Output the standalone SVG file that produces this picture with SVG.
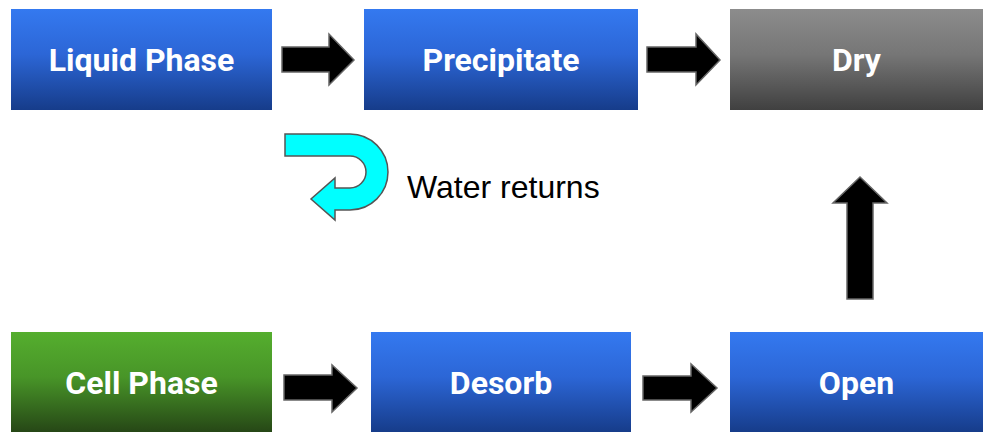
<svg xmlns="http://www.w3.org/2000/svg" width="984" height="432" viewBox="0 0 984 432">
<defs>
<linearGradient id="blue" x1="0" y1="0" x2="0" y2="1">
<stop offset="0" stop-color="#3479F0"/>
<stop offset="0.45" stop-color="#2C66D6"/>
<stop offset="1" stop-color="#163C8A"/>
</linearGradient>
<linearGradient id="green" x1="0" y1="0" x2="0" y2="1">
<stop offset="0" stop-color="#55AE2E"/>
<stop offset="0.45" stop-color="#489528"/>
<stop offset="1" stop-color="#264716"/>
</linearGradient>
<linearGradient id="grey" x1="0" y1="0" x2="0" y2="1">
<stop offset="0" stop-color="#8C8C8C"/>
<stop offset="0.45" stop-color="#767676"/>
<stop offset="1" stop-color="#404040"/>
</linearGradient>
</defs>
<style>
.lbl{font-family:Roboto,"Liberation Sans",sans-serif;font-weight:bold;font-size:32px;fill:#fff;text-anchor:middle}
.arr{fill:#000;stroke:#666;stroke-width:1.5}
.note{font-family:"Liberation Sans",Arial,sans-serif;font-size:32px;fill:#000}
</style>
<g id="liquid-phase"><rect x="11" y="9" width="261" height="101" fill="url(#blue)"/><text class="lbl" x="141.5" y="71">Liquid Phase</text></g>
<g id="precipitate"><rect x="364" y="9" width="274" height="101" fill="url(#blue)"/><text class="lbl" x="501" y="71">Precipitate</text></g>
<g id="dry"><rect x="730" y="9" width="253" height="101" fill="url(#grey)"/><text class="lbl" x="856.5" y="71">Dry</text></g>
<g id="cell-phase"><rect x="11" y="332" width="261" height="100" fill="url(#green)"/><text class="lbl" x="141.5" y="394">Cell Phase</text></g>
<g id="desorb"><rect x="371" y="332" width="260" height="100" fill="url(#blue)"/><text class="lbl" x="501" y="394">Desorb</text></g>
<g id="open"><rect x="730" y="332" width="253" height="100" fill="url(#blue)"/><text class="lbl" x="856.5" y="394">Open</text></g>
<g id="connectors">
<path class="arr" d="M282,47 H329 V34 L354,60 L329,85 V72 H282 Z"/>
<path class="arr" d="M647,47 H696 V34 L720,60 L696,85 V72 H647 Z"/>
<path class="arr" d="M284,375 H332 V365 L357,388 L332,412 V400 H284 Z"/>
<path class="arr" d="M643,376 H691 V364 L717,388 L691,412 V400 H643 Z"/>
<path class="arr" d="M847,299 V203 H833 L860,177 L887,203 H873 V299 Z"/>
<path d="M285,134 H350 A38,38 0 0 1 350,210 H335 V220 L311,199 L335,178 V188 H350 A16,16 0 0 0 350,156 H285 Z" fill="#00FFFF" stroke="#555" stroke-width="1.5"/>
</g>
<text class="note" x="407" y="198">Water returns</text>
</svg>
